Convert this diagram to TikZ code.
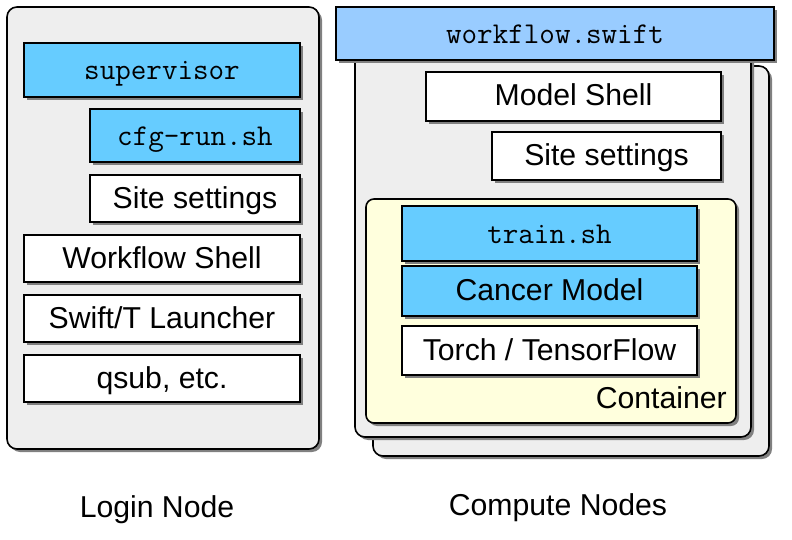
\documentclass[tikz,border=0pt]{standalone}
\usepackage{fontspec}
\setmainfont{Liberation Sans}
\usetikzlibrary{shadows}
\definecolor{boxblue}{HTML}{66CCFF}
\definecolor{swiftblue}{HTML}{99CCFF}
\definecolor{panelgray}{HTML}{EEEEEE}
\definecolor{boxyellow}{HTML}{FFFFDD}
\tikzset{shade3/.style={drop shadow={shadow xshift=3pt,shadow yshift=-3pt,fill=black!50,opacity=1}}}

\begin{document}
\begin{tikzpicture}[x=1pt,y=-1pt,
    every node/.style={font=\fontsize{30.2}{35}\selectfont},
    panel/.style={rectangle,draw,line width=1.6pt,rounded corners=10pt,fill=panelgray,shade3,inner sep=0pt},
    layer/.style={rectangle,draw,line width=1.6pt,fill=white,shade3,inner sep=0pt,text height=24pt,text depth=5pt},
    code/.style={layer,fill=boxblue,font=\fontsize{30.2}{35}\ttfamily,text height=22pt,text depth=2pt}]
    \useasboundingbox (0,0) rectangle (792,540);
    % login side
    \node [panel,minimum width=312,minimum height=442] (login) at (163,228) {};
    \node [code,minimum width=276,minimum height=54] (supervisor) at (162,70) {supervisor};
    \node [code,minimum width=210,minimum height=53] (cfgrun) at (195,135.5) {cfg-run.sh};
    \node [layer,minimum width=210,minimum height=47] (site1) at (195,198.5) {Site settings};
    \node [layer,minimum width=276,minimum height=47] (wfshell) at (162,258.5) {Workflow Shell};
    \node [layer,minimum width=276,minimum height=47] (launcher) at (162,318.5) {Swift/T Launcher};
    \node [layer,minimum width=276,minimum height=47] (qsub) at (162,378.5) {qsub, etc.};
    \node (loginlabel) at (157,510) {Login Node};
    % compute side
    \node [panel,minimum width=396,minimum height=390] (back) at (571,261) {};
    \node [panel,minimum width=396,minimum height=392] (front) at (553,241) {};
    \node [code,fill=swiftblue,minimum width=438,minimum height=53] (swift) at (555,33.5) {workflow.swift};
    \node [layer,minimum width=295,minimum height=49] (modelshell) at (573.5,96.5) {Model Shell};
    \node [layer,minimum width=229,minimum height=48] (site2) at (606.5,156) {Site settings};
    \node [panel,fill=boxyellow,rounded corners=8pt,minimum width=370,minimum height=224] (container) at (551,311) {};
    \node [code,minimum width=295,minimum height=55] (train) at (549.5,233.5) {train.sh};
    \node [layer,fill=boxblue,minimum width=295,minimum height=50] (cancer) at (549.5,291) {Cancer Model};
    \node [layer,minimum width=295,minimum height=49] (torch) at (549.5,350.5) {Torch / TensorFlow};
    \node [anchor=east,inner sep=0pt] (containerlabel) at (727,398) {Container};
    \node (computelabel) at (558,508) {Compute Nodes};
\end{tikzpicture}
\end{document}
